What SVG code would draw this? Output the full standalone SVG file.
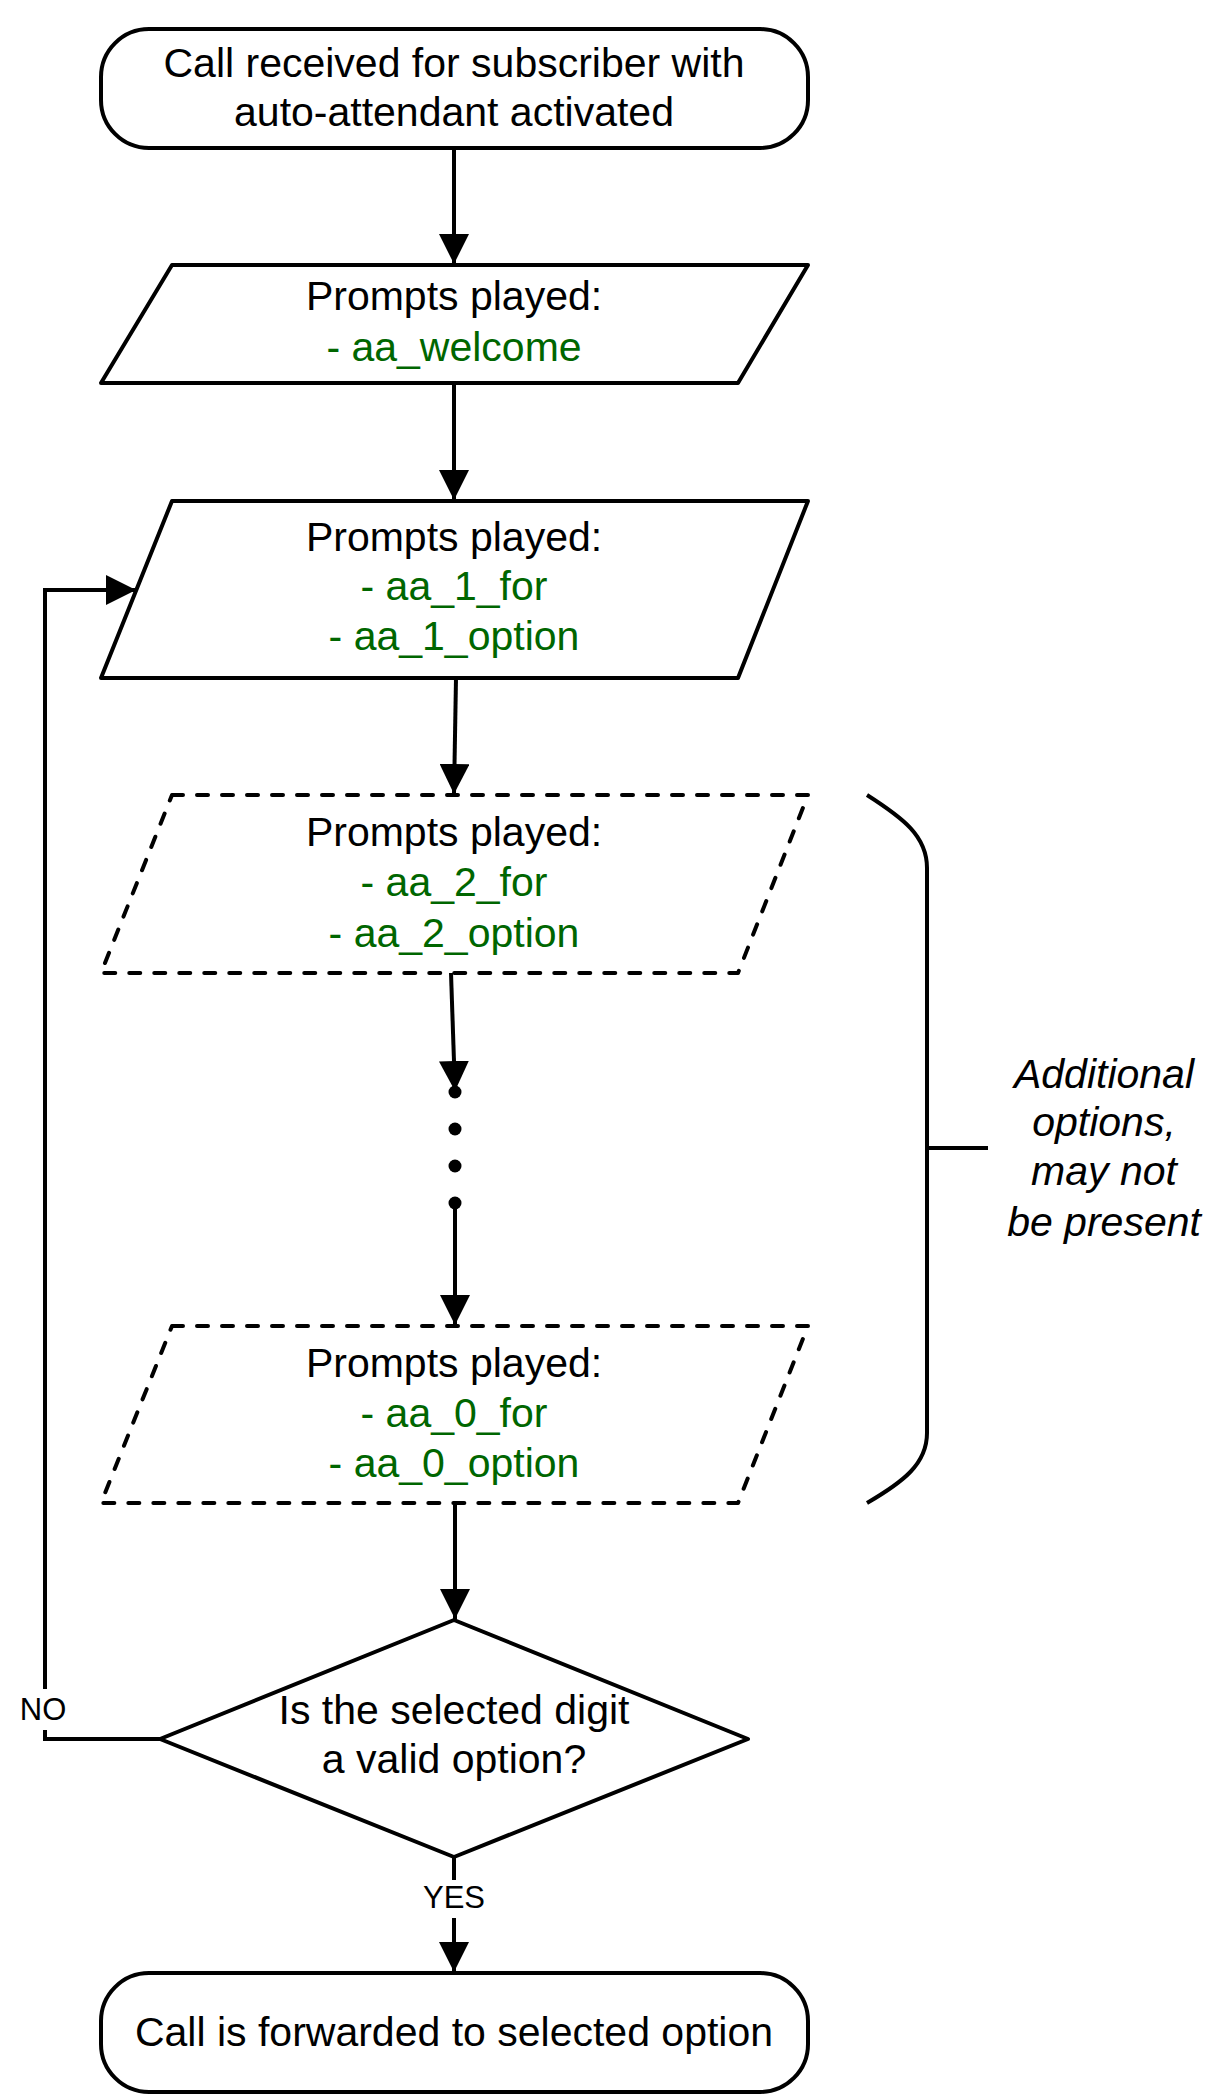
<svg xmlns="http://www.w3.org/2000/svg" width="1224" height="2096" viewBox="0 0 1224 2096">
<defs>
<style>
.shape{fill:#fff;stroke:#000;stroke-width:4;stroke-linejoin:round}
.dash{stroke-dasharray:11 14;stroke-linecap:round}
.line{fill:none;stroke:#000;stroke-width:4}
.t{font-family:"Liberation Sans",Arial,sans-serif;font-size:41px;text-anchor:middle;fill:#000}
.g{fill:#006600}
.i{font-style:italic}
.lbl{font-family:"Liberation Sans",Arial,sans-serif;font-size:31px;text-anchor:middle;fill:#000}
</style>
<marker id="arr" markerUnits="userSpaceOnUse" markerWidth="30" markerHeight="30" viewBox="0 0 28 28" refX="28" refY="14" orient="auto">
<path d="M0,0 L28,14 L0,28 Z" fill="#000"/>
</marker>
</defs>
<g id="connectors">
<line class="line" x1="454" y1="148" x2="454" y2="264" marker-end="url(#arr)"/>
<line class="line" x1="454" y1="383" x2="454" y2="500" marker-end="url(#arr)"/>
<line class="line" x1="456" y1="678" x2="454" y2="794" marker-end="url(#arr)"/>
<line class="line" x1="451" y1="973" x2="455" y2="1091" marker-end="url(#arr)"/>
<line class="line" x1="455" y1="1203" x2="455" y2="1325" marker-end="url(#arr)"/>
<line class="line" x1="455" y1="1502" x2="455" y2="1619" marker-end="url(#arr)"/>
<polyline class="line" points="160,1739 45,1739 45,1730"/>
<polyline class="line" points="45,1689 45,590 136,590" marker-end="url(#arr)"/>
<line class="line" x1="454" y1="1857" x2="454" y2="1880"/>
<line class="line" x1="454" y1="1918" x2="454" y2="1972" marker-end="url(#arr)"/>
<text class="lbl" x="43" y="1720">NO</text>
<text class="lbl" x="454" y="1908">YES</text>
</g>
<g id="start">
<rect class="shape" x="101" y="29" width="707" height="119" rx="48" ry="48"/>
<text class="t" x="454" y="77">Call received for subscriber with</text>
<text class="t" x="454" y="126">auto-attendant activated</text>
</g>
<g id="welcome">
<polygon class="shape" points="172,265 808,265 738,383 101,383"/>
<text class="t" x="454" y="310">Prompts played:</text>
<text class="t g" x="454" y="361">- aa_welcome</text>
</g>
<g id="option1">
<polygon class="shape" points="172,501 808,501 738,678 101,678"/>
<text class="t" x="454" y="551">Prompts played:</text>
<text class="t g" x="454" y="600">- aa_1_for</text>
<text class="t g" x="454" y="650">- aa_1_option</text>
</g>
<g id="option2">
<polygon class="shape dash" points="172,795 808,795 738,973 101,973"/>
<text class="t" x="454" y="846">Prompts played:</text>
<text class="t g" x="454" y="896">- aa_2_for</text>
<text class="t g" x="454" y="947">- aa_2_option</text>
</g>
<g id="dots">
<circle cx="455" cy="1092" r="6.5"/>
<circle cx="455" cy="1129" r="6.5"/>
<circle cx="455" cy="1166" r="6.5"/>
<circle cx="455" cy="1203" r="6.5"/>
</g>
<g id="option0">
<polygon class="shape dash" points="172,1326 808,1326 738,1503 101,1503"/>
<text class="t" x="454" y="1377">Prompts played:</text>
<text class="t g" x="454" y="1427">- aa_0_for</text>
<text class="t g" x="454" y="1477">- aa_0_option</text>
</g>
<g id="brace">
<path class="line" d="M867,795 C903,818 927,836 927,868 L927,1433 C927,1464 903,1482 867,1503 M927,1148 L988,1148"/>
<text class="t i" x="1104" y="1088">Additional</text>
<text class="t i" x="1104" y="1136">options,</text>
<text class="t i" x="1104" y="1185">may not</text>
<text class="t i" x="1104" y="1236">be present</text>
</g>
<g id="decision">
<polygon class="shape" points="454,1620 748,1739 454,1857 160,1739"/>
<text class="t" x="454" y="1724">Is the selected digit</text>
<text class="t" x="454" y="1773">a valid option?</text>
</g>
<g id="end">
<rect class="shape" x="101" y="1973" width="707" height="119" rx="48" ry="48"/>
<text class="t" x="454" y="2046">Call is forwarded to selected option</text>
</g>
</svg>
